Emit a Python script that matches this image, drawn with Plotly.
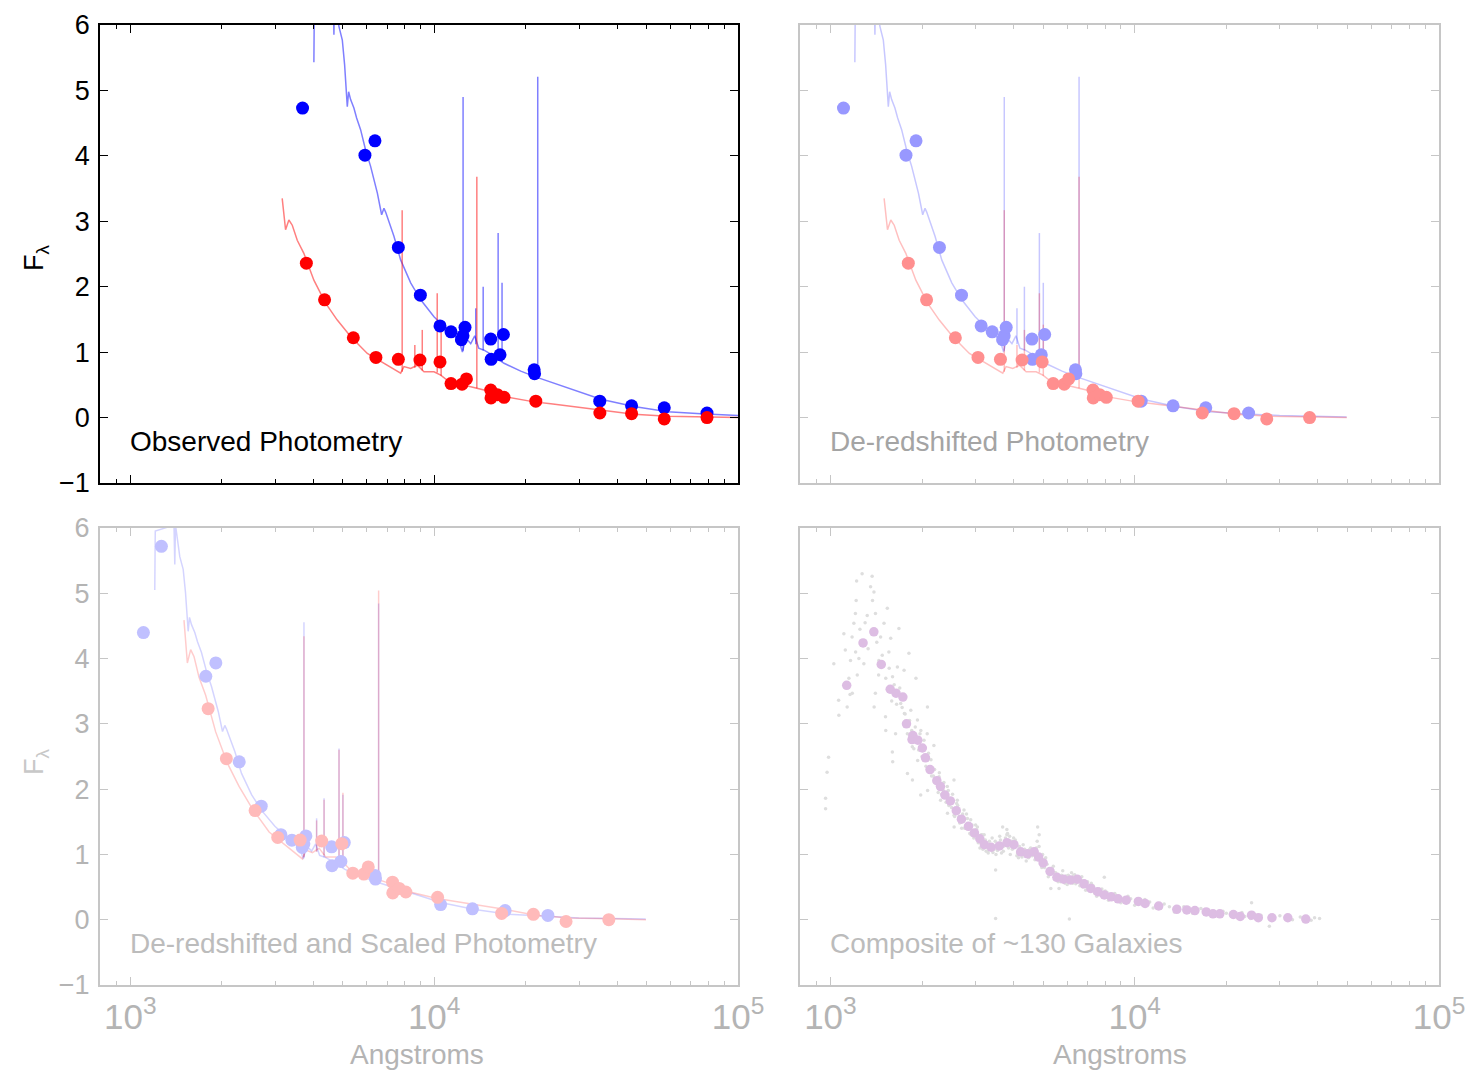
import numpy as np
import plotly.graph_objects as go

W, H = 1467, 1070

# ---------------- data ----------------
z_blue = 2.34
z_red = 1.105
scale_blue = 0.93
scale_red = 1.37

# observed-frame photometry (Angstrom, F_lambda)
blue_phot_wave = [3687, 4225, 5916, 6383, 7621, 9005, 10450, 11360, 12290, 12440, 12630,
                  15350, 16900, 15400, 16470, 21330, 21400, 35070, 44640, 57180, 79070]
blue_phot_flux = [4.73, 6.15, 4.01, 4.23, 2.60, 1.87, 1.40, 1.31, 1.19, 1.25, 1.38,
                  1.20, 1.27, 0.89, 0.96, 0.73, 0.67, 0.25, 0.18, 0.15, 0.07]

red_phot_wave = [3795, 4357, 5418, 6430, 7621, 8976, 10450, 11360, 12350, 12770,
                 15350, 15380, 16140, 16980, 21600, 35100, 44640, 57180, 79070]
red_phot_flux = [2.36, 1.80, 1.22, 0.92, 0.89, 0.88, 0.85, 0.52, 0.51, 0.59,
                 0.42, 0.30, 0.35, 0.31, 0.25, 0.07, 0.06, -0.02, 0.00]

# observed-frame template spectra (continuum)
blue_spec_wave = [4018, 4033, 4648, 4677, 4702, 4857, 4984, 5072, 5176, 5228, 5308, 5442,
                  5555, 5725, 5946, 6176, 6501, 6714, 6833, 6921, 7371, 7755, 8367, 9028,
                  9985, 11333, 12041, 12386, 12700, 13191, 13597, 14016, 14590, 15353,
                  16982, 19275, 21327, 24204, 28884, 35384, 45426, 58664, 75529, 100000,
                  130000, 166000]
blue_spec_flux = [5.43, 6.40, 6.50, 5.85, 6.50, 5.98, 5.77, 5.39, 4.75, 4.98, 4.86, 4.73,
                  4.58, 4.40, 4.09, 3.84, 3.43, 3.10, 3.20, 3.14, 2.77, 2.41, 2.06, 1.80,
                  1.54, 1.29, 1.19, 1.00, 1.22, 1.13, 1.25, 1.06, 1.03, 0.97,
                  0.83, 0.71, 0.63, 0.54, 0.42, 0.28, 0.17, 0.09, 0.06, 0.03,
                  0.02, 0.01]

red_spec_wave = [3160, 3242, 3324, 3411, 3542, 3724, 4018, 4390, 4797, 5308, 6024, 6833,
                 7755, 7953, 8367, 8803, 9256, 9985, 10505, 11052, 11922, 13191, 14590,
                 16982, 21327, 24204, 35384, 45426, 58664, 80000, 104800]
red_spec_flux = [3.35, 2.87, 3.02, 2.94, 2.71, 2.51, 2.10, 1.75, 1.49, 1.24, 0.98, 0.83,
                 0.68, 0.78, 0.75, 0.80, 0.70, 0.70, 0.65, 0.57, 0.52, 0.47, 0.42,
                 0.32, 0.24, 0.21, 0.12, 0.05, 0.02, 0.01, 0.00]

# emission lines (observed wavelength, continuum base, peak)
blue_line_wave = [12448, 13700, 14496, 16236, 16723, 21920]
blue_line_base = [1.02, 1.12, 1.03, 0.88, 0.85, 0.62]
blue_line_peak = [4.90, 1.67, 2.00, 2.82, 2.06, 5.21]

red_line_wave = [7845, 8635, 9136, 10232, 10540, 13815]
red_line_base = [0.70, 0.76, 0.72, 0.69, 0.64, 0.45]
red_line_peak = [3.17, 1.11, 1.34, 1.90, 1.42, 3.68]

# composite (rest frame)
comp_wave = [1131, 1280, 1389, 1469, 1572, 1643, 1730, 1778, 1854, 1866, 1937, 2005, 2053,
             2125, 2237, 2300, 2379, 2478, 2592, 2695, 2842, 2973, 3097, 3206, 3375, 3590,
             3805, 4010, 4220, 4440, 4673, 4833, 5000, 5270, 5550, 5840, 6150, 6475, 6815,
             7175, 7555, 7945, 8370, 8815, 9375, 10280, 10820, 11990, 13750, 14830, 15770,
             17180, 18080, 19040, 21100, 22220, 24210, 25480, 28250, 31850, 36500]
comp_flux = [3.59, 4.24, 4.41, 3.91, 3.53, 3.47, 3.41, 3.00, 2.76, 2.82, 2.75, 2.63, 2.48,
             2.30, 2.13, 2.04, 1.91, 1.82, 1.67, 1.54, 1.43, 1.33, 1.24, 1.15, 1.11, 1.13,
             1.18, 1.15, 1.04, 1.01, 1.04, 0.96, 0.87, 0.74, 0.65, 0.62, 0.61, 0.62, 0.55,
             0.48, 0.43, 0.38, 0.35, 0.32, 0.30, 0.28, 0.25, 0.21, 0.16, 0.15, 0.14,
             0.12, 0.09, 0.09, 0.08, 0.05, 0.07, 0.03, 0.03, 0.03, 0.01]

# individual galaxy photometry behind the composite (rest frame)
cloud_wave = [1271, 1371, 1219, 1355, 1390, 1375, 1215, 1538, 1208, 1321, 1406, 1194, 1500,
              1107, 1178, 1462, 1679, 1119, 1210, 1578, 1556, 1811, 1026, 1164, 1288, 1442,
              1660, 1746, 1910, 1600, 1225, 1064, 1135, 1180, 1405, 1702, 1837, 2084, 1750,
              1517, 1392, 1066, 1932, 1520, 1637, 1982, 2080, 1858, 2188, 1598, 1602, 1935,
              986, 975, 1791, 2138, 2275, 1860, 2086, 2421, 2547, 1980, 964, 964, 2301,
              2612, 2425, 2748, 2891, 2550, 3041, 3681, 3819, 4797, 4853,
              2600, 2700, 2800, 2900, 3000, 3100, 3200, 3300, 3400, 3500, 3600, 3700, 3800,
              3900, 4000, 4100, 4300, 4400, 4550, 4700, 4850, 4950, 5100, 5200, 5400, 5600,
              5800, 6000, 6200, 6400, 6700, 6900, 7200, 7500, 7800, 8200, 8600, 9000, 9500,
              10000, 10800, 11500, 12500, 13500, 14500, 15500, 16500, 18000, 19500, 21000,
              22500, 24000, 26000, 28000, 30000, 33000, 35000, 38000, 40500,
              3490, 3800, 5300, 5640, 7945, 24210, 3490, 6100, 27700,
              2150, 2250, 2350, 2450, 2550, 2650, 3050, 3150, 3250, 3450, 3650, 3950, 4150,
              4650, 5050, 5450, 6300, 6600, 7000, 8000, 9200, 11000, 14000, 17500, 23000]
cloud_flux = [5.30, 5.26, 5.19, 5.10, 5.02, 4.89, 4.89, 4.77, 4.69, 4.66, 4.69, 4.54, 4.54,
              4.38, 4.33, 4.33, 4.46, 4.13, 4.10, 4.31, 4.10, 4.08, 3.92, 3.97, 3.92, 3.97,
              3.87, 3.82, 3.70, 3.72, 3.75, 3.36, 3.26, 3.47, 3.47, 3.31, 3.21, 3.26, 3.16,
              3.11, 3.26, 3.13, 3.06, 2.90, 2.85, 2.90, 2.85, 2.65, 2.67, 2.57, 2.42, 2.44,
              2.49, 2.26, 2.24, 2.32, 2.19, 2.14, 1.98, 2.04, 2.14, 1.91, 1.86, 1.70, 1.83,
              1.83, 1.63, 1.68, 1.53, 1.42, 1.42, 1.42, 1.32, 1.42, 1.30,
              1.78, 1.40, 1.62, 1.30, 1.45, 1.10, 1.30, 1.02, 1.25, 1.00, 1.28, 1.05, 1.30,
              1.00, 1.25, 0.98, 1.15, 0.90, 1.10, 0.92, 1.12, 0.80, 0.95, 0.66, 0.82, 0.58,
              0.75, 0.54, 0.72, 0.55, 0.66, 0.45, 0.56, 0.36, 0.47, 0.30, 0.40, 0.26, 0.36,
              0.22, 0.31, 0.18, 0.24, 0.12, 0.20, 0.10, 0.17, 0.06, 0.13, 0.04,
              0.11, 0.02, 0.07, 0.00, 0.06, 0.00, 0.04, -0.01, 0.02,
              0.76, 1.38, 0.48, 0.48, 0.65, 0.26, 0.02, 0.01, -0.10,
              2.20, 2.05, 1.98, 1.75, 1.60, 1.58, 1.22, 1.30, 1.05, 1.08, 1.02, 1.20, 0.95,
              1.00, 0.92, 0.72, 0.68, 0.52, 0.58, 0.44, 0.30, 0.24, 0.19, 0.08, 0.05]

cloud_wave_b = [1150, 1160, 1240, 1250, 1300, 1330, 1420, 1440, 1480, 1520, 1560, 1590, 1620,
                1650, 1690, 1720, 1760, 1790, 1820, 1850, 1880, 1900, 1950, 1970, 2000, 2030,
                2060, 2100, 2140, 2180, 2200, 2260, 2280, 2320, 2360, 2400, 2440, 2500, 2520,
                2560, 2620, 2660, 2720, 2760, 2820, 2870, 2920, 2960, 3020, 3060, 3130, 3170,
                3230, 3280, 3330, 3420, 3480, 3540, 3620, 3700, 3760, 3850, 3880, 3960, 4050,
                4120, 4180, 4260, 4350, 4480, 4520, 4600, 4750, 4780, 4900, 4980, 5050, 5150,
                5230, 5350, 5450, 5500, 5700, 5750, 5900, 5950, 6050, 6250, 6350, 6550, 6650,
                6750, 6950, 7100, 7300, 7400, 7650, 7700, 8100, 8450, 8700, 9100, 9700, 10500,
                11200, 12200, 13000, 16000, 20000, 25000, 32000, 36000, 39000]
cloud_flux_b = [3.70, 3.45, 4.00, 4.45, 4.55, 4.15, 4.25, 3.75, 4.05, 3.70, 3.85, 3.35, 3.60,
                3.30, 3.55, 3.25, 3.15, 2.85, 3.05, 2.90, 2.62, 2.95, 2.60, 2.85, 2.50, 2.75,
                2.35, 2.55, 2.45, 2.20, 2.30, 1.95, 2.25, 1.92, 2.10, 1.80, 1.98, 1.72, 1.92,
                1.58, 1.75, 1.48, 1.62, 1.40, 1.55, 1.32, 1.45, 1.25, 1.38, 1.18, 1.30, 1.08,
                1.22, 1.05, 1.20, 1.03, 1.20, 1.06, 1.22, 1.12, 1.25, 1.10, 1.28, 1.08, 1.22,
                1.02, 1.12, 0.96, 1.08, 0.95, 1.08, 0.98, 1.10, 1.20, 0.92, 1.00, 0.80, 0.85,
                0.70, 0.78, 0.62, 0.72, 0.58, 0.68, 0.56, 0.67, 0.68, 0.56, 0.69, 0.58, 0.60,
                0.50, 0.56, 0.44, 0.52, 0.40, 0.47, 0.38, 0.42, 0.32, 0.37, 0.29, 0.32, 0.25,
                0.27, 0.18, 0.20, 0.12, 0.10, 0.05, 0.05, 0.00, 0.03]

# ---------------- layout helpers ----------------
FONT = "Liberation Sans, Arial, Helvetica, sans-serif"
panels = {
    1: ([100, 738], [25, 483]),
    2: ([800, 1439], [25, 483]),
    3: ([100, 738], [528, 985]),
    4: ([800, 1439], [528, 985]),
}


def xdom(p):
    return [p[0] / W, p[1] / W]


def ydom(p):
    return [1 - p[1] / H, 1 - p[0] / H]


fig = go.Figure()


def spikes(wave, base, peak, div=1.0, mul=1.0):
    xs, ys = [], []
    for w, b, p in zip(wave, base, peak):
        xs += [w / div, w / div, None]
        ys += [b * mul, p * mul, None]
    return xs, ys


def add_panel(idx, div_b, div_r, mul_b, mul_r, line_b, line_r, mk_b, mk_r):
    xa = 'x' if idx == 1 else f'x{idx}'
    ya = 'y' if idx == 1 else f'y{idx}'
    bw = np.array(blue_spec_wave) / div_b
    rw = np.array(red_spec_wave) / div_r
    fig.add_trace(go.Scatter(x=bw, y=np.array(blue_spec_flux) * mul_b, mode='lines',
                             line=dict(color=line_b, width=1.5), xaxis=xa, yaxis=ya,
                             hoverinfo='skip'))
    sx, sy = spikes(blue_line_wave, blue_line_base, blue_line_peak, div_b, mul_b)
    fig.add_trace(go.Scatter(x=sx, y=sy, mode='lines', line=dict(color=line_b, width=1.5),
                             xaxis=xa, yaxis=ya, hoverinfo='skip'))
    fig.add_trace(go.Scatter(x=rw, y=np.array(red_spec_flux) * mul_r, mode='lines',
                             line=dict(color=line_r, width=1.5), xaxis=xa, yaxis=ya,
                             hoverinfo='skip'))
    sx, sy = spikes(red_line_wave, red_line_base, red_line_peak, div_r, mul_r)
    fig.add_trace(go.Scatter(x=sx, y=sy, mode='lines', line=dict(color=line_r, width=1.5),
                             xaxis=xa, yaxis=ya, hoverinfo='skip'))
    fig.add_trace(go.Scatter(x=np.array(blue_phot_wave) / div_b,
                             y=np.array(blue_phot_flux) * mul_b, mode='markers',
                             marker=dict(color=mk_b, size=13, line=dict(width=0)),
                             xaxis=xa, yaxis=ya))
    fig.add_trace(go.Scatter(x=np.array(red_phot_wave) / div_r,
                             y=np.array(red_phot_flux) * mul_r, mode='markers',
                             marker=dict(color=mk_r, size=13, line=dict(width=0)),
                             xaxis=xa, yaxis=ya))


# panel 1: observed
add_panel(1, 1.0, 1.0, 1.0, 1.0, 'rgba(0,0,255,0.5)', 'rgba(255,0,0,0.5)', '#0000ff', '#ff0000')
# panel 2: de-redshifted
add_panel(2, 1 + z_blue, 1 + z_red, 1.0, 1.0, 'rgba(0,0,255,0.22)', 'rgba(255,0,0,0.25)',
          '#9898ff', '#ff8f8f')
# panel 3: de-redshifted and scaled
add_panel(3, 1 + z_blue, 1 + z_red, scale_blue, scale_red, 'rgba(0,0,255,0.17)',
          'rgba(255,0,0,0.2)', '#c0c0ff', '#ffbaba')
# panel 4: composite
fig.add_trace(go.Scatter(x=cloud_wave + cloud_wave_b, y=cloud_flux + cloud_flux_b,
                         mode='markers',
                         marker=dict(color='#dedede', size=3.5, line=dict(width=0)),
                         xaxis='x4', yaxis='y4'))
fig.add_trace(go.Scatter(x=comp_wave, y=comp_flux, mode='markers',
                         marker=dict(color='#ddbde3', size=9.5, line=dict(width=0)),
                         xaxis='x4', yaxis='y4'))

layout = dict(width=W, height=H, margin=dict(l=0, r=0, t=0, b=0), showlegend=False,
              plot_bgcolor='white', paper_bgcolor='white', font=dict(family=FONT))

for idx in range(1, 5):
    dark = idx == 1
    lc = 'black' if dark else '#c6c6c6'
    tc = 'black' if dark else '#b4b4b4'
    sfx = '' if idx == 1 else str(idx)
    xp, yp = panels[idx]
    layout['xaxis' + sfx] = dict(
        type='log', range=[2.9, 5.0], domain=xdom(xp), anchor='y' + sfx,
        showline=True, linecolor=lc, linewidth=1.5 if dark else 2, mirror='ticks',
        ticks='inside', ticklen=8, tickwidth=1, tickcolor=lc, dtick=1,
        showticklabels=idx >= 3, exponentformat='power',
        tickfont=dict(size=28, color=tc, family=FONT), ticklabelstandoff=1,
        minor=dict(ticks='inside', ticklen=4, tickwidth=1, tickcolor=lc, dtick='D1',
                   showgrid=False),
        showgrid=False, zeroline=False, fixedrange=True, automargin=False)
    layout['yaxis' + sfx] = dict(
        range=[-1, 6], domain=ydom(yp), anchor='x' + sfx, tick0=0, dtick=1,
        showline=True, linecolor=lc, linewidth=1.5 if dark else 2, mirror='ticks',
        ticks='inside', ticklen=8, tickwidth=1, tickcolor=lc,
        showticklabels=idx in (1, 3), tickfont=dict(size=27, color=tc, family=FONT),
        ticklabelstandoff=3, showgrid=False, zeroline=False, fixedrange=True,
        automargin=False)

ann = []
labels = [(1, 'Observed Photometry', 'black'),
          (2, 'De-redshifted Photometry', '#a4a4a4'),
          (3, 'De-redshifted and Scaled Photometry', '#bcbcbc'),
          (4, 'Composite of ~130 Galaxies', '#bcbcbc')]
for idx, txt, col in labels:
    xp, yp = panels[idx]
    ann.append(dict(text=txt, x=(xp[0] + 28) / W, y=1 - (yp[1] - 42) / H,
                    xref='paper', yref='paper', xanchor='left', yanchor='middle',
                    showarrow=False, font=dict(size=28, color=col, family=FONT)))
for cx in (417, 1120):
    ann.append(dict(text='Angstroms', x=cx / W, y=1 - 1054 / H, xref='paper', yref='paper',
                    xanchor='center', yanchor='middle', showarrow=False,
                    font=dict(size=28, color='#b4b4b4', family=FONT)))
for cy, col in ((258, 'black'), (762, '#c8c8c8')):
    ann.append(dict(text='F<sub>λ</sub>', x=36 / W, y=1 - cy / H, xref='paper',
                    yref='paper', xanchor='center', yanchor='middle', textangle=-90,
                    showarrow=False, font=dict(size=27, color=col, family=FONT)))
layout['annotations'] = ann

fig.update_layout(**layout)
fig.write_html("out.html")
